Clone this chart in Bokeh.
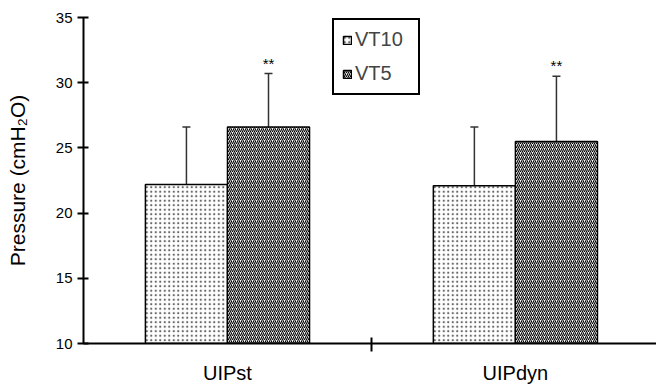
from bokeh.plotting import figure
from bokeh.models import (ColumnDataSource, Whisker, TeeHead, FixedTicker, Legend,
                          LegendItem, Range1d)
from bokeh.embed import file_html
from bokeh.resources import INLINE

# ---- data ----
categories = ["UIPst", "UIPdyn"]
series = ["VT10", "VT5"]
vt10_mean = [22.2, 22.1]
vt10_sd = [4.4, 4.5]
vt5_mean = [26.6, 25.5]
vt5_sd = [4.1, 5.0]
vt5_sig = ["**", "**"]
y_ticks = [10, 15, 20, 25, 30, 35]

FONT = "Liberation Sans"
bar_w = 0.285
centers = [i + 0.5 for i in range(len(categories))]
x10 = [c - bar_w / 2 for c in centers]
x5 = [c + bar_w / 2 for c in centers]

src10 = ColumnDataSource(dict(x=x10, top=vt10_mean,
                              upper=[m + s for m, s in zip(vt10_mean, vt10_sd)]))
src5 = ColumnDataSource(dict(x=x5, top=vt5_mean,
                             upper=[m + s for m, s in zip(vt5_mean, vt5_sd)],
                             sig=vt5_sig))

p = figure(width=656, height=386, output_backend="svg", toolbar_location=None,
           x_range=Range1d(0, 1.99), y_range=Range1d(10, 35),
           min_border_left=83, min_border_right=0, min_border_top=17,
           min_border_bottom=43)
p.outline_line_color = None
p.grid.visible = False
p.background_fill_color = "white"
p.border_fill_color = "white"

r10 = p.vbar(x="x", top="top", bottom=10, width=bar_w, source=src10,
             fill_color="white", line_color="black", line_width=1.5,
             hatch_pattern=".", hatch_scale=4.5, hatch_weight=1.1,
             hatch_color="#666666")
r5 = p.vbar(x="x", top="top", bottom=10, width=bar_w, source=src5,
            fill_color="white", line_color="black", line_width=1.5,
            hatch_pattern="/", hatch_scale=4, hatch_weight=1.1,
            hatch_color="black")

for src in (src10, src5):
    w = Whisker(source=src, base="x", lower="top", upper="upper",
                line_color="#333333", line_width=1.5, lower_head=None,
                upper_head=TeeHead(size=8, line_color="#333333", line_width=1.5))
    p.add_layout(w)

p.text(x="x", y="upper", text="sig", source=src5, text_align="center",
       text_baseline="bottom", y_offset=-2, text_font_size="15px",
       text_font={"value": FONT}, text_color="black")

# y axis
ya = p.yaxis[0]
ya.ticker = FixedTicker(ticks=y_ticks, minor_ticks=[])
ya.axis_line_width = 2
ya.axis_line_color = "black"
ya.major_tick_in = 5
ya.major_tick_out = 6
ya.major_tick_line_width = 2
ya.minor_tick_line_color = None
ya.major_label_text_font = FONT
ya.major_label_text_font_size = "15px"
ya.major_label_text_color = "black"
ya.major_label_standoff = 5
ya.axis_label = "Pressure (cmH\u2082O)"
ya.axis_label_text_font = FONT
ya.axis_label_text_font_size = "21px"
ya.axis_label_text_font_style = "normal"
ya.axis_label_text_color = "black"
ya.axis_label_standoff = 24

# x axis
xa = p.xaxis[0]
xa.ticker = FixedTicker(ticks=centers, minor_ticks=[1.0])
xa.major_label_overrides = {c: name for c, name in zip(centers, categories)}
xa.axis_line_width = 2
xa.axis_line_color = "black"
xa.major_tick_in = 0
xa.major_tick_out = 0
xa.minor_tick_in = 6
xa.minor_tick_out = 8
xa.minor_tick_line_width = 2
xa.minor_tick_line_color = "black"
xa.major_label_text_font = FONT
xa.major_label_text_font_size = "20px"
xa.major_label_text_color = "black"
xa.major_label_standoff = 10

legend = Legend(items=[LegendItem(label=series[0], renderers=[r10]),
                       LegendItem(label=series[1], renderers=[r5])],
                location=(249, 248), orientation="vertical",
                glyph_width=10, glyph_height=10, label_standoff=3,
                label_width=55, label_height=20, padding=8, spacing=11,
                margin=0, border_line_color="black", border_line_width=2,
                border_line_alpha=1.0,
                label_text_font=FONT, label_text_font_size="20px",
                background_fill_alpha=1.0)
p.add_layout(legend, "center")

open("out.html", "w").write(file_html(p, INLINE))
